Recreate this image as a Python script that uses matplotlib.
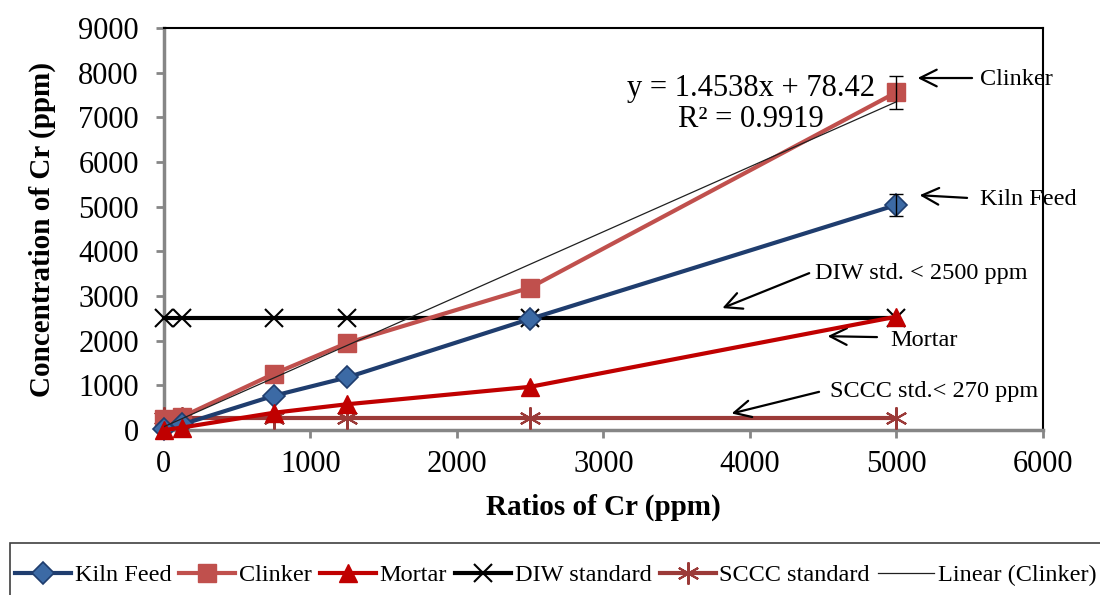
import numpy as np
import matplotlib
matplotlib.use('Agg')
import matplotlib.pyplot as plt
from matplotlib.patches import Rectangle

plt.rcParams['font.family'] = ['Liberation Serif', 'DejaVu Serif']

ratios = [0, 125, 750, 1250, 2500, 5000]
kiln_feed = [20, 130, 770, 1180, 2490, 5040]
kiln_feed_err = [0, 0, 0, 0, 0, 250]
clinker = [260, 300, 1260, 1950, 3190, 7560]
clinker_err = [0, 0, 0, 0, 0, 370]
mortar = [0, 60, 390, 580, 970, 2540]
diw_std = [2500, 2500, 2500, 2500, 2500, 2500]
sccc_std = [270, 270, 270, 270, 270, 270]
fit_slope = 1.4538
fit_icpt = 78.42
fit_r2 = 0.9919

fig = plt.figure(figsize=(11, 5.95), dpi=100)
ax = fig.add_axes([0.149, 0.277, 0.799, 0.676])

ax.plot(ratios, kiln_feed, color='#1F3D6E', lw=3, marker='D', ms=11,
        mfc='#3C6AA5', mec='#1F3D6E', mew=1.2, label='Kiln Feed', clip_on=False, zorder=5)
ax.plot(ratios, clinker, color='#C0504D', lw=3, marker='s', ms=13,
        mfc='#C0504D', mec='#C0504D', label='Clinker', clip_on=False, zorder=4)
ax.plot(ratios, mortar, color='#C00000', lw=3, marker='^', ms=13,
        mfc='#C00000', mec='#C00000', label='Mortar', clip_on=False, zorder=6)
ax.plot(ratios, diw_std, color='black', lw=3, marker='x', ms=13, mew=1.5,
        label='DIW standard', clip_on=False, zorder=3)
ax.plot(ratios, sccc_std, color='#9B3A38', lw=3, marker=(6, 2, 0), ms=16, mew=1.5,
        label='SCCC standard', clip_on=False, zorder=3)

fit_x = np.array([ratios[0], ratios[-1]])
ax.plot(fit_x, fit_slope * fit_x + fit_icpt, color='#202020', lw=0.9,
        label='Linear (Clinker)', zorder=7)

# error bars only where there is a visible spread
for ys, es in [(kiln_feed, kiln_feed_err), (clinker, clinker_err)]:
    xs = [x for x, e in zip(ratios, es) if e > 0]
    yv = [y for y, e in zip(ys, es) if e > 0]
    ev = [e for e in es if e > 0]
    ax.errorbar(xs, yv, yerr=ev, fmt='none', ecolor='black', elinewidth=1,
                capsize=5, capthick=1, zorder=8)

ax.set_xlim(0, 6000)
ax.set_ylim(0, 9000)
ax.set_xticks(np.arange(0, 6001, 1000))
ax.set_yticks(np.arange(0, 9001, 1000))
ax.tick_params(axis='both', labelsize=22, color='#868686', width=2, length=6,
               direction='out')
ax.tick_params(axis='x', pad=8)
ax.tick_params(axis='y', pad=12)
for s in ['left', 'bottom']:
    ax.spines[s].set_color('#868686')
    ax.spines[s].set_linewidth(2.5)
for s in ['top', 'right']:
    ax.spines[s].set_color('black')
    ax.spines[s].set_linewidth(1.5)

ax.set_xlabel('Ratios of Cr (ppm)', fontsize=21, fontweight='bold', labelpad=11)
ax.set_ylabel('Concentration of Cr (ppm)', fontsize=21, fontweight='bold', labelpad=16)

ax.text(4007, 7640, 'y = 1.4538x + 78.42', fontsize=22, ha='center', va='center')
ax.text(4007, 6960, 'R² = 0.9919', fontsize=22, ha='center', va='center')

arrow = dict(arrowstyle='->', color='black', lw=1.6, mutation_scale=30)
notes = [
    ('Clinker', (5126, 7880), (5536, 7880), (5570, 7858)),
    ('Kiln Feed', (5140, 5261), (5502, 5194), (5570, 5171)),
    ('DIW std. < 2500 ppm', (3795, 2709), (4423, 3537), (4444, 3515)),
    ('Mortar', (4512, 2104), (4887, 2082), (4956, 2015)),
    ('SCCC std.< 270 ppm', (3857, 358), (4491, 873), (4546, 873)),
]
for label, head, tail, txt in notes:
    ax.annotate('', xy=head, xytext=tail, arrowprops=arrow, annotation_clip=False)
    ax.text(txt[0], txt[1], label, fontsize=17.5, ha='left', va='center', clip_on=False)

# legend box runs off the right and bottom edges like the source image
fig.patches.append(Rectangle((10 / 1100, -0.1), 1.2, 0.1 + 52 / 595,
                             transform=fig.transFigure, fill=False,
                             edgecolor='#404040', lw=1.2))
fig.legend(loc='center left', bbox_to_anchor=(0.0136, 1 - 575 / 595),
           ncol=6, fontsize=17.5, frameon=False,
           handlelength=2.3, handletextpad=0.15, columnspacing=0.34,
           borderaxespad=0.0, borderpad=0.0)

fig.savefig('out.png', dpi=100)
